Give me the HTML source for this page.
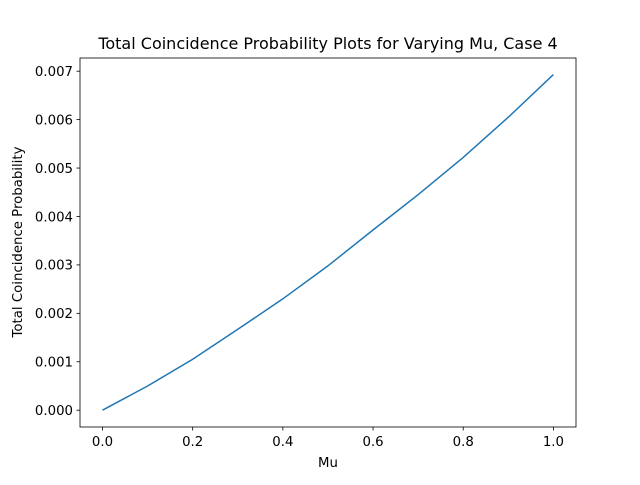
<!DOCTYPE html>
<html><head><meta charset="utf-8"><style>
body{margin:0;background:#fff;font-family:"Liberation Sans","DejaVu Sans",sans-serif;}
svg text{font-family:"DejaVu Sans","Liberation Sans",sans-serif;font-size:13.3px;fill:#000;}
</style></head><body>
<svg id="chart" width="640" height="480">
<rect x="0" y="0" width="640" height="480" fill="#fff"/>
<text x="328" y="49" text-anchor="middle" style="font-size:16px">Total Coincidence Probability Plots for Varying Mu, Case 4</text>
<text x="328" y="467" text-anchor="middle">Mu</text>
<text transform="translate(22,242) rotate(-90)" text-anchor="middle">Total Coincidence Probability</text>
<g id="ticks"></g>
<path id="line" fill="none" stroke="#1f77b4" stroke-width="1.5"/>
<rect x="80" y="58" width="496" height="369" fill="none" stroke="#000" stroke-width="0.8"/>
</svg>
<script>
const muValues=[0,0.1,0.2,0.3,0.4,0.5,0.6,0.7,0.8,0.9,1.0];
const probValues=[0,0.0005,0.00105,0.00167,0.0023,0.00298,0.00372,0.00445,0.00522,0.00605,0.00693];
const xTicks=[0,0.2,0.4,0.6,0.8,1.0];
const xTickLabels=["0.0","0.2","0.4","0.6","0.8","1.0"];
const yTicks=[0,0.001,0.002,0.003,0.004,0.005,0.006,0.007];
const yTickLabels=["0.000","0.001","0.002","0.003","0.004","0.005","0.006","0.007"];
function xs(v){return 102.5+v*450.9;}
function ys(v){return 410.2-v*48430;}
const NS="http://www.w3.org/2000/svg";
const g=document.getElementById('ticks');
xTicks.forEach((t,i)=>{
 const l=document.createElementNS(NS,'line');
 l.setAttribute('x1',xs(t));l.setAttribute('x2',xs(t));l.setAttribute('y1',427);l.setAttribute('y2',430.5);l.setAttribute('stroke','#000');l.setAttribute('stroke-width','0.8');
 
 
 g.appendChild(l);
 const tx=document.createElementNS(NS,'text');
 tx.setAttribute('x',xs(t));tx.setAttribute('y',446);tx.setAttribute('text-anchor','middle');tx.textContent=xTickLabels[i];
 
 
 g.appendChild(tx);
});
yTicks.forEach((t,i)=>{
 const l=document.createElementNS(NS,'line');
 l.setAttribute('x1',76.5);l.setAttribute('x2',80);l.setAttribute('y1',ys(t));l.setAttribute('y2',ys(t));l.setAttribute('stroke','#000');l.setAttribute('stroke-width','0.8');
 
 
 g.appendChild(l);
 const tx=document.createElementNS(NS,'text');
 tx.setAttribute('x',73);tx.setAttribute('y',ys(t)+4.8);tx.setAttribute('text-anchor','end');tx.textContent=yTickLabels[i];
 
 
 g.appendChild(tx);
});
document.getElementById('line').setAttribute('d',muValues.map((m,i)=>(i?'L':'M')+xs(m).toFixed(1)+','+ys(probValues[i]).toFixed(1)).join(' '));
</script>
</body></html>
